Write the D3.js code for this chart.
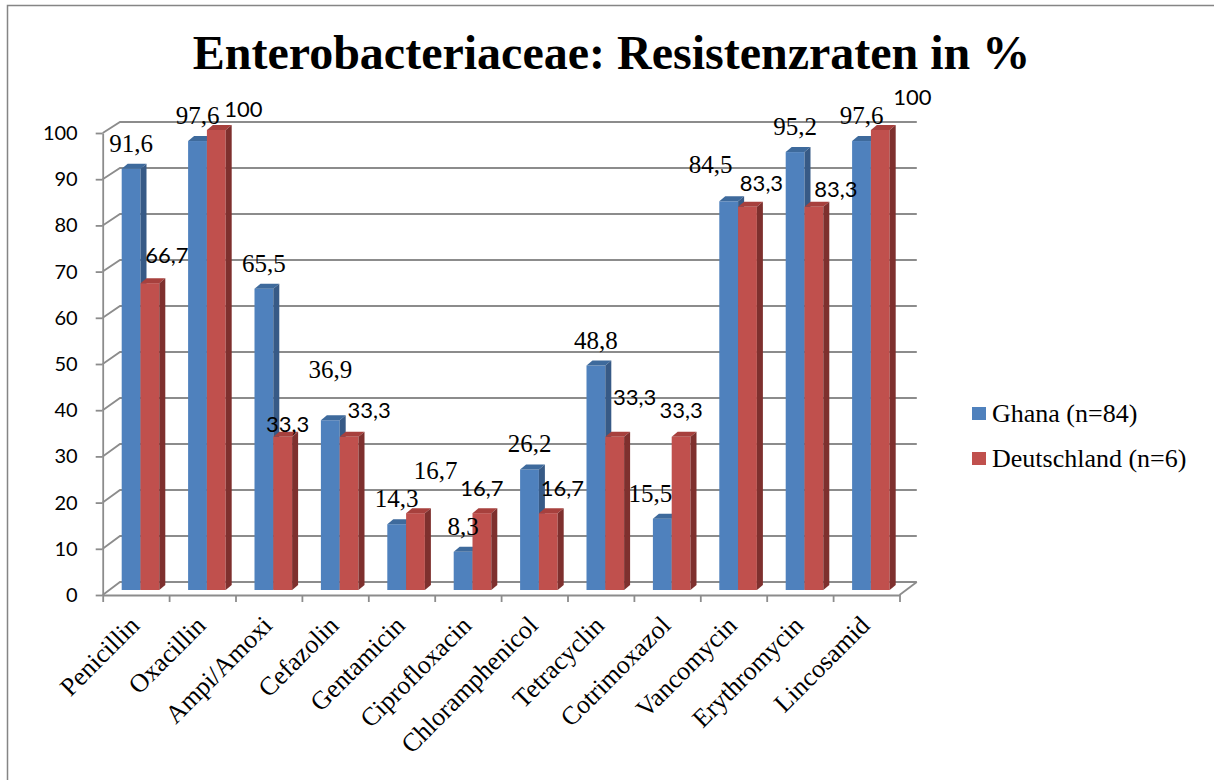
<!DOCTYPE html>
<html>
<head>
<meta charset="utf-8">
<script src="https://cdn.jsdelivr.net/npm/d3@7"></script>
<style>
  html, body { margin: 0; padding: 0; background: #fff; }
  svg { display: block; }
</style>
</head>
<body>
<svg id="chart" width="1214" height="780"></svg>
<script>
// ---------------- data ----------------
const categories = ["Penicillin", "Oxacillin", "Ampi/Amoxi", "Cefazolin", "Gentamicin", "Ciprofloxacin",
  "Chloramphenicol", "Tetracyclin", "Cotrimoxazol", "Vancomycin", "Erythromycin", "Lincosamid"];
const ghana = [91.6, 97.6, 65.5, 36.9, 14.3, 8.3, 26.2, 48.8, 15.5, 84.5, 95.2, 97.6];
const deutschland = [66.7, 100, 33.3, 33.3, 16.7, 16.7, 16.7, 33.3, 33.3, 83.3, 83.3, 100];
const seriesNames = ["Ghana (n=84)", "Deutschland (n=6)"];
const yTicks = [0, 10, 20, 30, 40, 50, 60, 70, 80, 90, 100];
const titleText = "Enterobacteriaceae: Resistenzraten in %";

// ---------------- layout / style ----------------
const W = 1214, H = 780;
const SERIF = "'Liberation Serif', 'Times New Roman', serif";
const SANS = "Lato, 'Open Sans', sans-serif";
const colors = [
  { front: "#4F81BD", top: "#3E6A9C", side: "#375A86" },
  { front: "#C0504D", top: "#A7403D", side: "#7E302E" }
];
const depth = { dx: 6, dy: -5 };      // bar side/top offset
const wall = { dx: 17.3, dy: -13 };   // back wall offset
const barOffset = 19, barW = 18.8;
// manual label nudges [dx, dy] (Excel hand placement), per series
const labelNudge = [
  [[0,0],[0,0],[0,0],[0,-25],[0,0],[0,0],[0,0],[0,0],[-12,0],[-18,-11],[0,0],[0,0]],
  [[17,-3],[27,4],[5,12],[20,-2],[20,-17],[0,0],[14,0],[20,-15],[0,-2],[14,1],[22,7],[32,-8]]
];
const serifLabelExceptions = new Set(["1-4"]); // Gentamicin red label drawn in serif
const gridColor = "#8c8c8c";

const svg = d3.select("#chart");

// border
svg.append("path").attr("d", `M7.5,${H} V5.5 H${W}`).attr("fill", "none")
  .attr("stroke", "#858585").attr("stroke-width", 1.5);

// title
svg.append("text").attr("x", 611.5).attr("y", 69).attr("text-anchor", "middle")
  .attr("font-family", SERIF)
  .attr("font-weight", "bold").attr("font-size", 48).attr("fill", "#000")
  .text(titleText);

// scales
const x0 = 102.7, x1 = 899.5;
const x = d3.scaleBand().domain(categories).range([x0, x1]).padding(0);
const xEdge = d3.scaleLinear().domain([0, categories.length]).range([x0, x1]);
const yFront = d3.scaleLinear().domain([0, 100]).range([595, 133]);
const yBack = d3.scaleLinear().domain([0, 100]).range([582, 122]);
const yBar = d3.scaleLinear().domain([0, 100]).range([590, 130]);

// back wall gridlines + diagonal connectors
const grid = svg.append("g").attr("fill", "none").attr("stroke", gridColor).attr("stroke-width", 1.8);
yTicks.forEach(t => {
  grid.append("path").attr("d",
    `M${x0},${yFront(t)} L${x0 + wall.dx},${yBack(t)} H${x1 + wall.dx}`);
});
// right floor edge
grid.append("path").attr("d", `M${x1},${yFront(0)} L${x1 + wall.dx},${yBack(0)}`);

// front y axis
const yAxis = d3.axisLeft(yFront).tickValues(yTicks).tickSize(7).tickSizeOuter(0).tickPadding(18);
const gy = svg.append("g").attr("transform", `translate(${x0},0)`).call(yAxis);
gy.selectAll("path, line").attr("stroke", gridColor).attr("stroke-width", 1.8);
gy.selectAll("text").attr("font-family", SANS).attr("font-size", 20).attr("fill", "#000");

// front x axis (ticks at category boundaries)
const xAxis = d3.axisBottom(xEdge).tickValues(d3.range(categories.length + 1)).tickFormat("").tickSize(7).tickSizeOuter(0);
const gx = svg.append("g").attr("transform", `translate(0,${yFront(0)})`).call(xAxis);
gx.selectAll("path, line").attr("stroke", gridColor).attr("stroke-width", 1.8);

// category labels
svg.append("g").selectAll("text").data(categories).join("text")
  .attr("transform", d => `translate(${x(d) + x.bandwidth() / 2 + 5},627) rotate(-45)`)
  .attr("text-anchor", "end")
  .attr("font-family", SERIF)
  .attr("font-size", 26).attr("fill", "#000")
  .text(d => d);

// bars
const series = [ghana, deutschland];
const bars = svg.append("g");
const base = yBar(0);
categories.forEach((c, i) => {
  series.forEach((vals, s) => {
    const v = vals[i];
    const bx = x(c) + barOffset + s * barW;
    const yt = yBar(v);
    const col = colors[s];
    const g = bars.append("g");
    g.append("rect").attr("x", bx).attr("y", yt).attr("width", barW).attr("height", base - yt)
      .attr("fill", col.front);
    g.append("path").attr("d",
      `M${bx},${yt} L${bx + depth.dx},${yt + depth.dy} L${bx + barW + depth.dx},${yt + depth.dy} L${bx + barW},${yt} Z`)
      .attr("fill", col.top);
    g.append("path").attr("d",
      `M${bx + barW},${yt} L${bx + barW + depth.dx},${yt + depth.dy} L${bx + barW + depth.dx},${base + depth.dy} L${bx + barW},${base} Z`)
      .attr("fill", col.side);
  });
});

// data labels
const fmt = d3.formatLocale({ decimal: ",", thousands: ".", grouping: [3], currency: ["", "€"] }).format(".1~f");
const labels = svg.append("g");
categories.forEach((c, i) => {
  series.forEach((vals, s) => {
    const v = vals[i];
    const cx = x(c) + barOffset + s * barW + barW / 2;
    const n = labelNudge[s][i];
    const serif = s === 0 || serifLabelExceptions.has(`${s}-${i}`);
    labels.append("text")
      .attr("x", cx + n[0]).attr("y", yBar(v) - 17 + n[1])
      .attr("text-anchor", "middle")
      .attr("font-family", serif ? SERIF : SANS)
      .attr("font-size", serif ? 25 : 22).attr("fill", "#000")
      .text(fmt(v));
  });
});

// legend
const legend = svg.append("g");
seriesNames.forEach((name, s) => {
  const ly = 422 + s * 45;
  legend.append("rect").attr("x", 972).attr("y", ly - 15).attr("width", 14).attr("height", 13)
    .attr("fill", colors[s].front);
  legend.append("text").attr("x", 992).attr("y", ly)
    .attr("font-family", SERIF)
    .attr("font-size", 26).attr("fill", "#000").text(name);
});
</script>
</body>
</html>
